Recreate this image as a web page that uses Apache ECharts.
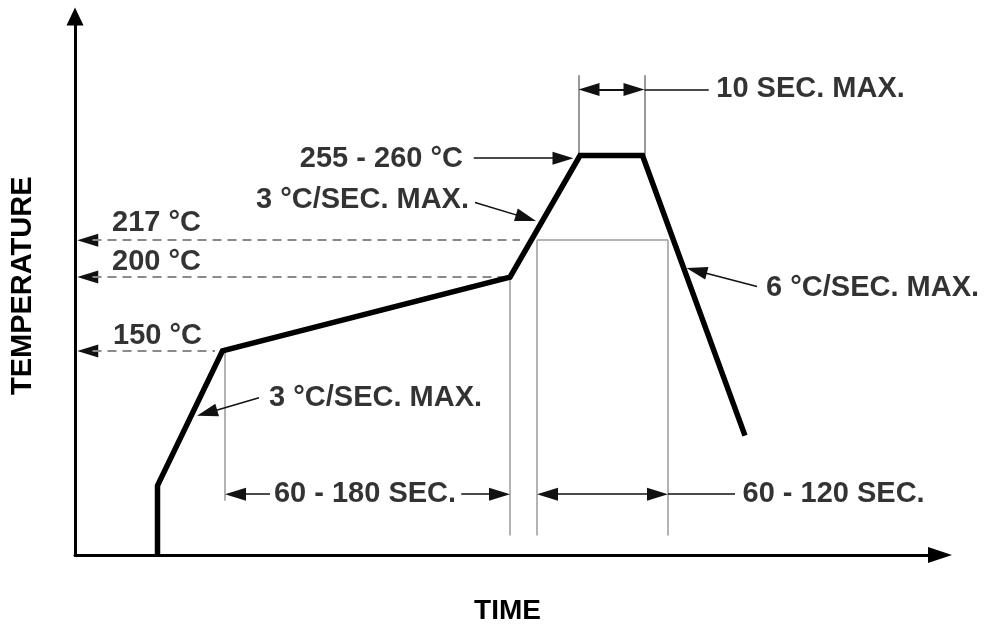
<!DOCTYPE html>
<html><head><meta charset="utf-8">
<script src="https://cdn.jsdelivr.net/npm/echarts@6/dist/echarts.min.js"></script>
<style>html,body{margin:0;padding:0;background:#fff}#c{width:989px;height:630px}</style>
</head><body><div id="c"></div>
<script>
// Schematic reflow profile: time (s, schematic) vs temperature level (schematic)
const profileTime  = [33, 33, 59, 174, 202, 227, 268];
const profileLevel = [72, 104, 166, 200, 256, 256, 127];

// Reference temperature levels with dashed leaders to the temperature axis
const refLabels   = ['217 °C', '200 °C', '150 °C'];
const refLevel    = [217, 200, 166];
const refLineEnd  = [178, 171, 56];

// Thin guide lines dropping from the profile
const guideTime   = [60, 174, 184.8, 237.2];
const guideTop    = [166, 200, 217, 217];
const guideBottom = [97, 81, 81, 81];

// Peak dwell window
const peakEdges = [201.4, 227.8];
const peakTop = 293, peakLevel = 256, peakDimLevel = 286.4;

// Annotation texts
const annotLeft = [            // [time, level, text] text starts at anchor
  [256.5, 286.8, '10 SEC. MAX.'],
  [14.8, 225, refLabels[0]],
  [14.8, 207, refLabels[1]],
  [15.2, 173, refLabels[2]],
  [77.6, 144.4, '3 °C/SEC. MAX.'],
  [276.4, 195.2, '6 °C/SEC. MAX.'],
  [267, 100, '60 - 120 SEC.']
];
const annotRight = [           // text ends at anchor
  [155.2, 254.3, '255 - 260 °C'],
  [157.6, 235.5, '3 °C/SEC. MAX.']
];
const annotCenter = [
  [116, 100, '60 - 180 SEC.']
];

// axis ranges / grid
const X_MIN = 0, X_MAX = 346, Y_MIN = 72, Y_MAX = 320;
const GRID = {left: 75, right: 49, top: 16.6, bottom: 72};
const W = 989, H = 630;
const KX = (W - GRID.left - GRID.right) / (X_MAX - X_MIN);
const KY = (H - GRID.top - GRID.bottom) / (Y_MAX - Y_MIN);

const FONT = 'Liberation Sans, Arial, Helvetica, sans-serif';
const ARW = [13, 21];
const HALF = ARW[1] / 2;
// pull an arrow end back by half the arrow length so that the tip lands on the target
function pull(tip, from) {
  const dx = (tip[0] - from[0]) * KX, dy = (tip[1] - from[1]) * KY;
  const len = Math.sqrt(dx * dx + dy * dy);
  return [tip[0] - dx / len * HALF / KX, tip[1] - dy / len * HALF / KY];
}
function seg(a, b, style, s1, s2) {
  const A = s1 === 'triangle' ? pull(a, b) : a;
  const B = s2 === 'triangle' ? pull(b, a) : b;
  return [
    {coord: A, symbol: s1 || 'none', symbolSize: ARW, lineStyle: Object.assign({type: 'solid'}, style)},
    {coord: B, symbol: s2 || 'none', symbolSize: ARW}
  ];
}
const dashStyle = {color: '#8a8a8a', width: 2, type: [9, 6]};
const thin = {color: '#9a9a9a', width: 1.5};
const blk = {color: '#111', width: 1.5};

const lines = [];
refLevel.forEach((L, i) => {
  lines.push(seg([0.9, L], [7, L], blk, 'triangle', 'none'));
  lines.push(seg([7, L], [refLineEnd[i], L], dashStyle));
});
guideTime.forEach((t, i) => lines.push(seg([t, guideTop[i]], [t, guideBottom[i]], thin)));
lines.push(seg([guideTime[2], 217], [guideTime[3], 217], thin));
peakEdges.forEach(t => lines.push(seg([t, peakTop], [t, peakLevel], {color: '#777', width: 1.5})));
lines.push(seg([peakEdges[0], peakDimLevel], [peakEdges[1], peakDimLevel], {color: '#111', width: 2}, 'triangle', 'triangle'));
lines.push(seg([peakEdges[1], peakDimLevel], [253.5, peakDimLevel], blk));
lines.push(seg([159.5, 254.8], [199.4, 254.8], blk, 'none', 'triangle'));
lines.push(seg([160, 234.4], [184.4, 225.9], blk, 'none', 'triangle'));
lines.push(seg([73.6, 144.4], [48.8, 136.1], blk, 'none', 'triangle'));
lines.push(seg([272.8, 195.7], [244.6, 204.2], blk, 'none', 'triangle'));
lines.push(seg([60, 100], [78, 100], blk, 'triangle', 'none'));
lines.push(seg([154.5, 100], [174, 100], blk, 'none', 'triangle'));
lines.push(seg([guideTime[2], 100], [guideTime[3], 100], blk, 'triangle', 'triangle'));
lines.push(seg([guideTime[3], 100], [264, 100], blk));

const txt = {show: true, color: '#000', fontFamily: FONT, fontWeight: 'bold', fontSize: 29, distance: 0,
  formatter: p => p.data[2]};

const chart = echarts.init(document.getElementById('c'));
chart.setOption({
  animation: false,
  backgroundColor: '#fff',
  grid: Object.assign({containLabel: false}, GRID),
  xAxis: {
    type: 'value', min: X_MIN, max: X_MAX,
    name: 'TIME', nameLocation: 'middle', nameGap: 42,
    nameTextStyle: {color: '#000', fontFamily: FONT, fontWeight: 'bold', fontSize: 28},
    axisLine: {show: true, onZero: false, symbol: ['none', 'triangle'], symbolSize: [16, 24],
      lineStyle: {color: '#000', width: 3}},
    axisTick: {show: false}, axisLabel: {show: false}, splitLine: {show: false}
  },
  yAxis: {
    type: 'value', min: Y_MIN, max: Y_MAX,
    name: 'TEMPERATURE', nameLocation: 'middle', nameGap: 38,
    nameTextStyle: {color: '#000', fontFamily: FONT, fontWeight: 'bold', fontSize: 29},
    axisLine: {show: true, onZero: false, symbol: ['none', 'triangle'], symbolSize: [17, 18],
      lineStyle: {color: '#000', width: 3}},
    axisTick: {show: false}, axisLabel: {show: false}, splitLine: {show: false}
  },
  series: [
    {
      type: 'line', silent: true, symbol: 'none', z: 5,
      data: profileTime.map((t, i) => [t, profileLevel[i]]),
      lineStyle: {color: '#000', width: 5.5, join: 'miter', cap: 'butt'},
      markLine: {silent: true, animation: false, symbol: ['none', 'none'], label: {show: false},
        lineStyle: {type: 'solid'}, emphasis: {disabled: true}, data: lines, z: 3}
    },
    {type: 'scatter', silent: true, symbolSize: 0, data: annotLeft, label: Object.assign({position: 'right'}, txt)},
    {type: 'scatter', silent: true, symbolSize: 0, data: annotRight, label: Object.assign({position: 'left'}, txt)},
    {type: 'scatter', silent: true, symbolSize: 0, data: annotCenter, label: Object.assign({position: 'inside'}, txt)}
  ]
});
</script></body></html>
